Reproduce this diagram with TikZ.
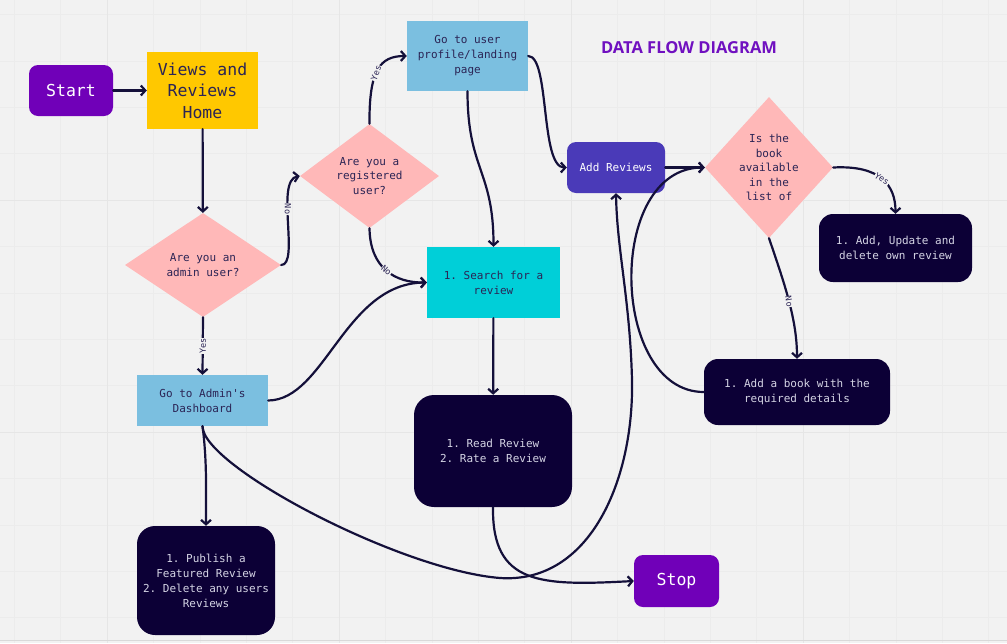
\documentclass[tikz,border=0pt]{standalone}
\usepackage{fontspec}
\setmainfont{Open Sans}
\setmonofont{DejaVu Sans Mono}
\usepackage{tikz}
\usetikzlibrary{positioning, shapes.geometric, arrows.meta}

\definecolor{bgcol}{HTML}{F2F2F2}
\definecolor{gridminor}{HTML}{ECECEC}
\definecolor{gridmajor}{HTML}{E6E6E6}
\definecolor{termpurple}{HTML}{7000B8}
\definecolor{homeyellow}{HTML}{FFC800}
\definecolor{decpink}{HTML}{FFB8B8}
\definecolor{pagelblue}{HTML}{7BBFE0}
\definecolor{searchcyan}{HTML}{00CFD8}
\definecolor{addindigo}{HTML}{4A3AB8}
\definecolor{tasknavy}{HTML}{0C0036}
\definecolor{linecol}{HTML}{14103A}
\definecolor{darktext}{HTML}{2B2455}
\definecolor{lighttext}{HTML}{D4D4E4}
\definecolor{titlecol}{HTML}{7010C0}

\tikzset{
  plainbox/.style={rectangle, inner sep=0pt, align=center, text=darktext,
    font=\fontsize{11}{15}\selectfont\ttfamily},
  termbox/.style={rectangle, rounded corners=9pt, fill=termpurple, inner sep=0pt,
    text=white, font=\fontsize{16.5}{20}\selectfont\ttfamily},
  taskbox/.style={rectangle, rounded corners=16pt, fill=tasknavy, inner sep=0pt,
    align=center, text=lighttext, font=\fontsize{11}{15}\selectfont\ttfamily},
  decision/.style={diamond, fill=decpink, inner sep=-6pt, align=center, text=darktext,
    font=\fontsize{11}{14.5}\selectfont\ttfamily},
  flow/.style={draw=linecol, line width=2.2pt, line cap=round,
    -{Straight Barb[length=4.5pt,width=10pt]}},
  answer/.style={fill=bgcol, inner sep=0.5pt, text=darktext,
    font=\fontsize{8.5}{9}\selectfont\ttfamily}
}

\begin{document}
\begin{tikzpicture}[x=1pt, y=-1pt]
  % background and grid
  \fill[bgcol] (0,0) rectangle (1007,643);
  \useasboundingbox (0,0) rectangle (1007,643);
  \foreach \i in {-2,...,19} {
    \draw[gridminor, line width=0.6pt] ({107+46.4*\i},0) -- ++(0,643);
  }
  \foreach \j in {-4,...,9} {
    \draw[gridminor, line width=0.6pt] (0,{200+46.4*\j}) -- ++(1007,0);
  }
  \foreach \i in {0,...,3} {
    \draw[gridmajor, line width=1pt] ({107+232*\i},0) -- ++(0,643);
  }
  \foreach \j in {0,1} {
    \draw[gridmajor, line width=1pt] (0,{200+232*\j}) -- ++(1007,0);
  }
  \draw[black!15, line width=1pt] (0,640) -- (1007,640);

  % nodes
  \node[termbox, minimum width=84pt, minimum height=51pt] (start) at (71,90.5) {Start};
  \node[plainbox, fill=homeyellow, minimum width=111pt, minimum height=77pt,
    font=\fontsize{16.5}{21.5}\selectfont\ttfamily] (home) at (202.5,90.5) {Views and\\Reviews\\Home};
  \node[decision, minimum width=156pt, minimum height=104pt] (admin) at (203,265) {Are you an\\admin user?};
  \node[decision, minimum width=139pt, minimum height=104pt] (registered) at (369.5,176) {Are you a\\registered\\user?};
  \node[plainbox, fill=pagelblue, minimum width=121pt, minimum height=70pt] (profile) at (467.5,56) {Go to user\\profile/landing\\page};
  \node[plainbox, fill=searchcyan, minimum width=133pt, minimum height=71pt] (search) at (493.5,282.5) {1. Search for a\\review};
  \node[plainbox, fill=pagelblue, minimum width=131pt, minimum height=51pt] (dashboard) at (202.5,400.5) {Go to Admin's\\Dashboard};
  \node[taskbox, rounded corners=20pt, minimum width=158pt, minimum height=112pt] (readrate) at (493,451) {1. Read Review\\2. Rate a Review};
  \node[taskbox, rounded corners=18pt, minimum width=138pt, minimum height=109pt] (publish) at (206,580.5) {1. Publish a\\Featured Review\\2. Delete any users\\Reviews};
  \node[termbox, minimum width=85pt, minimum height=52pt] (stop) at (676.5,581) {Stop};
  \node[termbox, fill=addindigo, minimum width=98pt, minimum height=51pt,
    font=\fontsize{11}{15}\selectfont\ttfamily] (addrev) at (616,167.5) {Add Reviews};
  \node[decision, minimum width=128pt, minimum height=141pt] (available) at (769,167.5) {Is the\\book\\available\\in the\\list of};
  \node[taskbox, rounded corners=14pt, minimum width=153pt, minimum height=68pt] (ownreview) at (895.5,248) {1. Add, Update and\\delete own review};
  \node[taskbox, rounded corners=14pt, minimum width=186pt, minimum height=66pt] (addbook) at (797,392) {1. Add a book with the\\required details};
  \node[text=titlecol, font=\fontsize{16.5}{20}\selectfont\bfseries] (title) at (689,48) {DATA FLOW DIAGRAM};

  % connectors
  \draw[flow] (start) -- (home);
  \draw[flow] (home) -- (admin);
  \draw[flow] (admin.east) .. controls (300,265) and (275,180) .. (registered.west)
    node[answer, pos=0.6, rotate=-90] {No};
  \draw[flow] (admin.south) -- (dashboard.north)
    node[answer, midway, rotate=90] {Yes};
  \draw[flow] (registered.north) .. controls (369,70) and (380,56) .. (profile.west)
    node[answer, pos=0.45, rotate=70] {Yes};
  \draw[flow] (registered.south) .. controls (370,268) and (395,283) .. (search.west)
    node[answer, pos=0.5, rotate=-40] {No};
  \draw[flow] (profile.south) .. controls (467.5,170) and (493.5,170) .. (search.north);
  \draw[flow] (profile.east) .. controls (550,56) and (540,167.5) .. (addrev.west);
  \draw[flow] (addrev) -- (available);
  \draw[flow] (available.east) .. controls (880,165) and (895.5,185) .. (ownreview.north)
    node[answer, pos=0.5, rotate=-35] {Yes};
  \draw[flow] (available.south) .. controls (785,285) and (797,320) .. (addbook.north)
    node[answer, pos=0.5, rotate=-80] {No};
  \draw[flow] (addbook.west) .. controls (610,392) and (605,167.5) .. (available.west);
  \draw[flow] (dashboard.south) .. controls (207,460) and (206,490) .. (publish.north);
  \draw[flow] (dashboard.east) .. controls (325,400) and (345,283) .. (search.west);
  \draw[flow] (dashboard.south) .. controls +(0,40) and (400,570) .. (500,578)
    .. controls (590,584) and (634,480) .. (632,380)
    .. controls (630,300) and (617,250) .. (addrev.south);
  \draw[flow] (search) -- (readrate);
  \draw[flow] (readrate.south) .. controls (492,585) and (540,586) .. (stop.west);
\end{tikzpicture}
\end{document}
